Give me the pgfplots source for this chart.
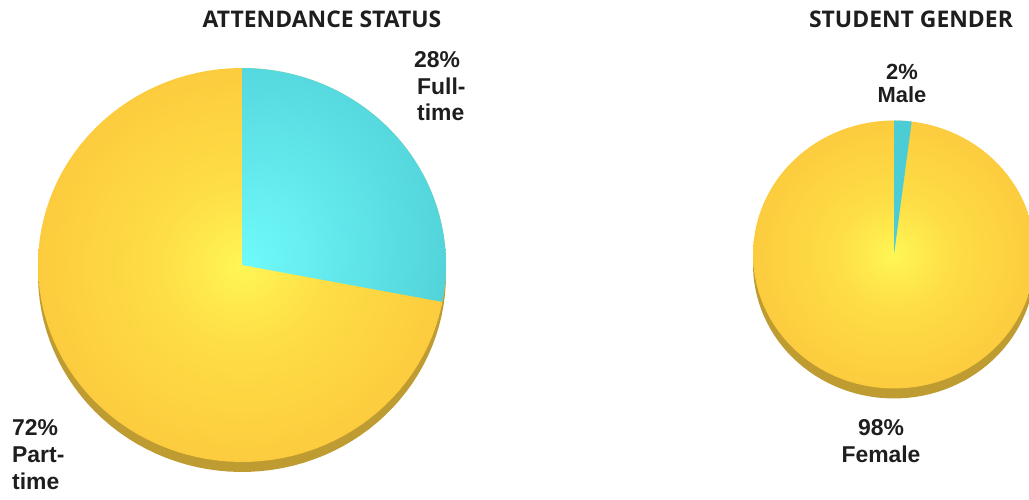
\documentclass[border=0pt]{standalone}
\usepackage{pgfplots}
\pgfplotsset{compat=1.18}
\usepackage{fontspec}
\setmainfont{Liberation Sans}
\newfontfamily\titlefont{Open Sans}
\definecolor{yelA}{RGB}{255,246,85}
\definecolor{yelB}{RGB}{254,222,70}
\definecolor{yelC}{RGB}{252,204,62}
\definecolor{cyA}{RGB}{112,250,250}
\definecolor{cyB}{RGB}{76,204,212}
\definecolor{shadowc}{RGB}{190,156,50}
\definecolor{txt}{RGB}{30,30,30}
\pgfdeclareradialshading{yelshade}{\pgfpoint{0bp}{0bp}}{color(0bp)=(yelA); color(10bp)=(yelB); color(25bp)=(yelC); color(50bp)=(yelC)}
\pgfdeclareradialshading{cyshade}{\pgfpoint{-25bp}{-17.1bp}}{color(0bp)=(cyA); color(50bp)=(cyB); color(120bp)=(cyB)}
% pie values (percent)
\newcommand\fulltime{28}
\newcommand\parttime{72}
\newcommand\male{2}
\newcommand\female{98}
\begin{document}
\begin{tikzpicture}
\begin{axis}[
  scale only axis, width=1029bp, height=500bp,
  xmin=0, xmax=1029, ymin=0, ymax=500,
  hide axis, clip=true,
]
% ---- left pie: attendance status ----
\addplot[draw=none, fill=shadowc, domain=0:360, samples=120] ({242+204*cos(x)},{225+197*sin(x)}) -- cycle;
\addplot[draw=none, shading=yelshade, domain=0:360, samples=120] ({242+204*cos(x)},{235+197*sin(x)}) -- cycle;
\addplot[draw=none, shading=cyshade, domain={90-3.6*\fulltime}:90, samples=60] ({242+204*cos(x)},{235+197*sin(x)}) -- (axis cs:242,235) -- cycle;
% ---- right pie: student gender ----
\addplot[draw=none, fill=shadowc, domain=0:360, samples=120] ({894+141*cos(x)},{235.5+134*sin(x)}) -- cycle;
\addplot[draw=none, shading=yelshade, domain=0:360, samples=120] ({894+141*cos(x)},{245.5+134*sin(x)}) -- cycle;
\addplot[draw=none, fill=cyB, domain={90-3.6*\male}:90, samples=10] ({894+141*cos(x)},{245.5+134*sin(x)}) -- (axis cs:894,245.5) -- cycle;
\end{axis}
% titles and labels (axis units = bp, origin at lower left)
\begin{scope}[x=1bp,y=1bp, text=txt]
\node[anchor=base, font=\titlefont\bfseries\fontsize{23}{27}\selectfont] at (322,472) {ATTENDANCE STATUS};
\node[anchor=base, font=\titlefont\bfseries\fontsize{23}{27}\selectfont] at (911,472) {STUDENT GENDER};
\node[anchor=north west, align=left, inner sep=0pt, font=\bfseries\fontsize{23}{27}\selectfont] at (414,449) {\fulltime\%\\\hspace*{3pt}Full-\\\hspace*{3pt}time};
\node[anchor=north west, align=left, inner sep=0pt, font=\bfseries\fontsize{23}{27.5}\selectfont] at (12,81) {\parttime\%\\Part-\\time};
\node[anchor=north, align=center, inner sep=0pt, font=\bfseries\fontsize{22}{23}\selectfont] at (902,436) {\male\%\\Male};
\node[anchor=north, align=center, inner sep=0pt, font=\bfseries\fontsize{23}{27}\selectfont] at (881,81) {\female\%\\Female};
\end{scope}
\pgfresetboundingbox
\path (current axis.south west) rectangle (current axis.north east);
\end{tikzpicture}
\end{document}
